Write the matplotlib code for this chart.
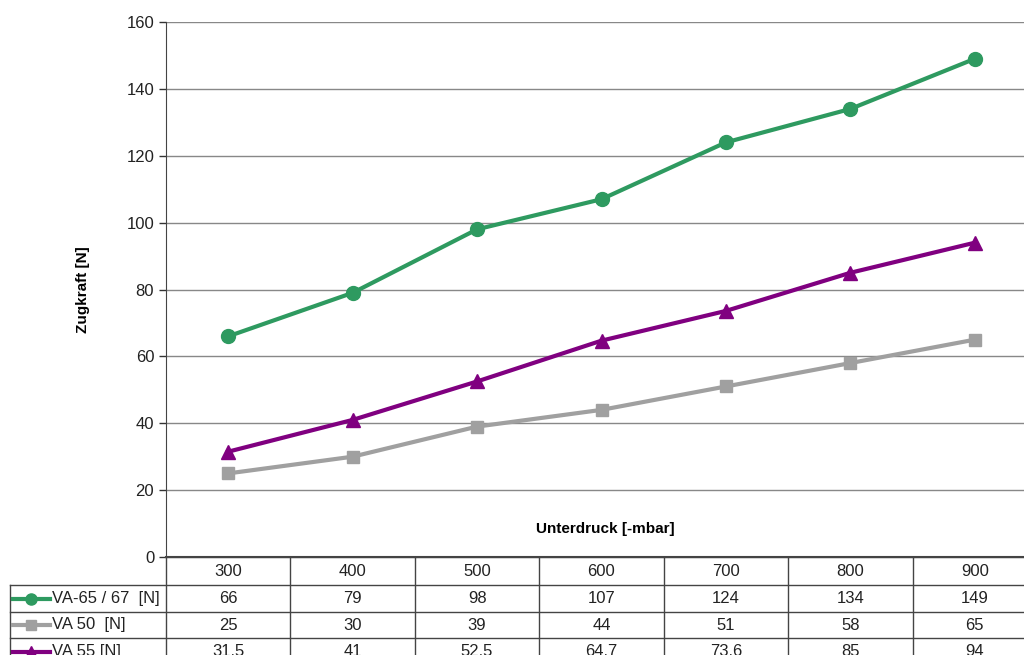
import matplotlib
matplotlib.use("Agg")
import matplotlib.pyplot as plt
from matplotlib.lines import Line2D

categories = ["300", "400", "500", "600", "700", "800", "900"]
series_names = ["VA-65 / 67  [N]", "VA 50  [N]", "VA 55 [N]"]
va65 = [66, 79, 98, 107, 124, 134, 149]
va50 = [25, 30, 39, 44, 51, 58, 65]
va55 = [31.5, 41, 52.5, 64.7, 73.6, 85, 94]
va65_txt = ["66", "79", "98", "107", "124", "134", "149"]
va50_txt = ["25", "30", "39", "44", "51", "58", "65"]
va55_txt = ["31.5", "41", "52.5", "64.7", "73.6", "85", "94"]

colors = ["#2e9a60", "#a0a0a0", "#800080"]
markers = ["o", "s", "^"]
msizes = [10, 9, 10]

W, H = 1024, 655
fig = plt.figure(figsize=(W / 100, H / 100), dpi=100)
plt.rcParams['font.family'] = ['Liberation Sans', 'DejaVu Sans']
FS = 12

def fx(px):
    return px / W

def fy(py):
    return 1 - py / H

x0, x1, ytop, ybot = 166, 1037, 22, 557
ax = fig.add_axes([fx(x0), fy(ybot), fx(x1) - fx(x0), fy(ytop) - fy(ybot)])
xs = list(range(len(categories)))
for vals, c, m, ms in zip([va65, va50, va55], colors, markers, msizes):
    ax.plot(xs, vals, color=c, lw=3, marker=m, ms=ms, zorder=3, clip_on=False)
ax.set_xlim(-0.5, len(categories) - 0.5)
ax.set_ylim(0, 160)
ax.set_yticks(range(0, 161, 20))
ax.set_xticks([])
ax.tick_params(axis='y', labelsize=FS, colors='#333333', length=5, width=1, labelcolor='#222222')
ax.grid(axis='y', color='#888888', lw=1)
ax.set_axisbelow(True)
for s in ['top', 'right']:
    ax.spines[s].set_visible(False)
ax.spines['left'].set_color('#444444')
ax.spines['bottom'].set_color('#444444')
ax.spines['bottom'].set_linewidth(1.5)
ax.set_ylabel("Zugkraft [N]", fontsize=11, fontweight='bold', labelpad=26)
ax.text(3.03, 8.3, "Unterdruck [-mbar]", fontsize=11, fontweight='bold', ha='center', va='center')

# table
tax = fig.add_axes([0, 0, 1, 1], facecolor='none')
tax.set_xlim(0, W)
tax.set_ylim(H, 0)
tax.axis('off')
lc = '#444444'
step = (x1 - x0) / len(categories)
rows_y = [557, 585, 612, 638, 665]
tax.plot([x0, x1], [rows_y[0]] * 2, color=lc, lw=1, clip_on=False)
for ry in rows_y[1:]:
    tax.plot([10, x1], [ry, ry], color=lc, lw=1, clip_on=False)
for i in range(len(categories) + 1):
    xv = x0 + i * step
    tax.plot([xv, xv], [rows_y[0], rows_y[-1]], color=lc, lw=1, clip_on=False)
tax.plot([10, 10], [rows_y[1], rows_y[-1]], color=lc, lw=1, clip_on=False)

for i, cat in enumerate(categories):
    cx = x0 + (i + 0.5) * step
    tax.text(cx, (rows_y[0] + rows_y[1]) / 2, cat, ha='center', va='center', fontsize=FS, color='#222222')
for r, (name, txts, c, m, ms) in enumerate(zip(series_names, [va65_txt, va50_txt, va55_txt], colors, markers, msizes)):
    cy = (rows_y[r + 1] + rows_y[r + 2]) / 2
    tax.add_line(Line2D([13, 50], [cy, cy], color=c, lw=3))
    tax.plot([31], [cy], marker=m, color=c, ms=ms * 0.8)
    tax.text(52, cy, name, ha='left', va='center', fontsize=FS, color='#222222')
    for i, t in enumerate(txts):
        cx = x0 + (i + 0.5) * step
        tax.text(cx, cy, t, ha='center', va='center', fontsize=FS, color='#222222')

fig.savefig("out.png", dpi=100)
